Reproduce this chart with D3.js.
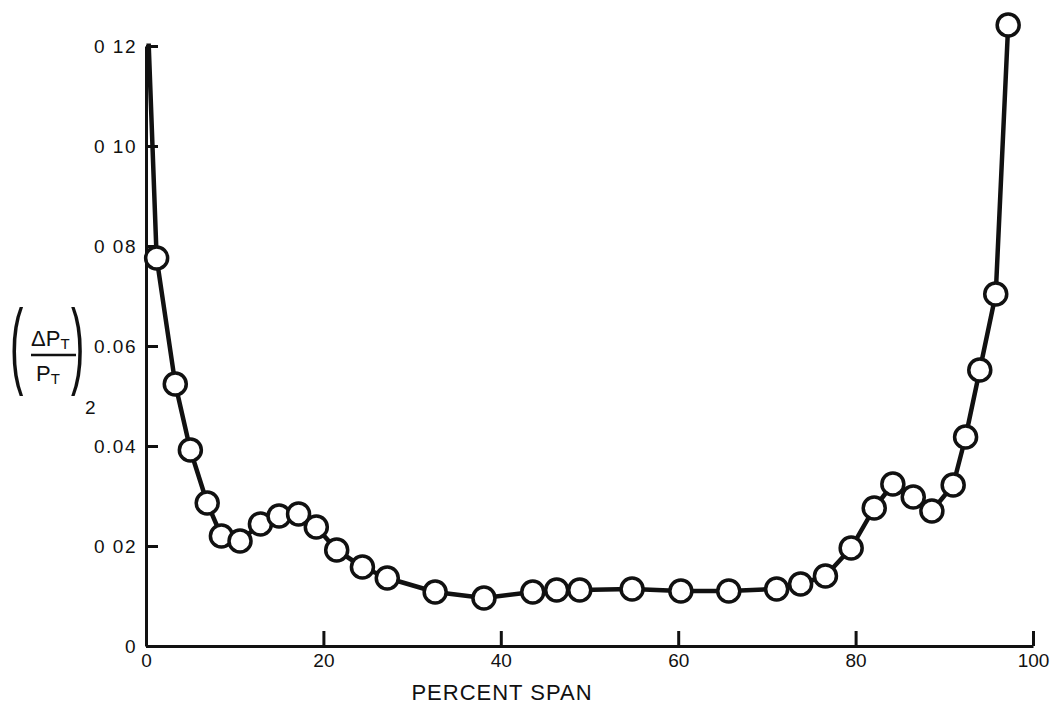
<!DOCTYPE html>
<html>
<head>
<meta charset="utf-8">
<script src="https://cdn.jsdelivr.net/npm/d3@7"></script>
<style>
  body { margin: 0; background: #fff; }
  svg { display: block; }
  text { font-family: "Liberation Sans", Arial, sans-serif; fill: #111; }
</style>
</head>
<body>
<div id="vis"></div>
<script>
// DATA
let span = [1.2, 3.3, 5.0, 6.9, 8.5, 10.6, 12.9, 15.0, 17.2, 19.2, 21.5, 24.4, 27.2,
	32.6, 38.1, 43.6, 46.3, 48.9, 54.8, 60.3, 65.7, 71.1, 73.8, 76.6, 79.5,
	82.1, 84.2, 86.5, 88.6, 91.0, 92.4, 94.0, 95.8, 97.2];
let lossRatio = [0.0776, 0.0524, 0.0392, 0.0286, 0.0220, 0.0210, 0.0244, 0.0260, 0.0264, 0.0238, 0.0192, 0.0158, 0.0136,
	0.0108, 0.0096, 0.0108, 0.0112, 0.0112, 0.0114, 0.0110, 0.0110, 0.0114, 0.0124, 0.0140, 0.0196,
	0.0276, 0.0324, 0.0298, 0.0270, 0.0322, 0.0418, 0.0552, 0.0704, 0.1242];
// the curve starts at the top of the axis without a marker
let leadSpan = 0.3, leadLoss = 0.1205;

let xTicks = [0, 20, 40, 60, 80, 100];
let yTicks = [0, 0.02, 0.04, 0.06, 0.08, 0.10, 0.12];
let yTickLabels = ['0', '0 02', '0.04', '0.06', '0 08', '0 10', '0 12'];

// PARAMETERS
let width = 1053, height = 708;
let margin = { left: 146, right: 1033, top: 46, bottom: 646 };

let svg = d3.select('#vis').append('svg')
	.attr('width', width)
	.attr('height', height);

// SCALES
let x = d3.scaleLinear().domain([0, 100]).range([margin.left, margin.right]);
let y = d3.scaleLinear().domain([0, 0.12]).range([margin.bottom, margin.top]);

// AXES
let xAxis = d3.axisBottom(x)
	.tickValues(xTicks)
	.tickFormat(d3.format('d'))
	.tickSizeInner(-15)
	.tickSizeOuter(0)
	.tickPadding(8);

let yAxis = d3.axisLeft(y)
	.tickValues(yTicks)
	.tickFormat((d, i) => yTickLabels[i])
	.tickSizeInner(-12)
	.tickSizeOuter(0)
	.tickPadding(9);

let gx = svg.append('g')
	.attr('transform', `translate(0, ${margin.bottom})`)
	.call(xAxis);
let gy = svg.append('g')
	.attr('transform', `translate(${margin.left}, 0)`)
	.call(yAxis);

[gx, gy].forEach(g => {
	g.select('.domain').attr('stroke', '#111').attr('stroke-width', 3);
	g.selectAll('.tick line').attr('stroke', '#111').attr('stroke-width', 3);
	g.selectAll('.tick text')
		.attr('font-family', '"Liberation Sans", Arial, sans-serif')
		.attr('font-size', 19)
		.attr('fill', '#111');
});
gy.selectAll('.tick text').attr('letter-spacing', 1.5);

// CURVE
let points = [[leadSpan, leadLoss]].concat(span.map((s, i) => [s, lossRatio[i]]));

let line = d3.line()
	.x(d => x(d[0]))
	.y(d => y(d[1]));

svg.append('path')
	.datum(points)
	.attr('fill', 'none')
	.attr('stroke', '#111')
	.attr('stroke-width', 4.5)
	.attr('stroke-linejoin', 'round')
	.attr('d', line);

svg.selectAll('circle.pt')
	.data(span)
	.enter()
	.append('circle')
	.attr('class', 'pt')
	.attr('cx', d => x(d))
	.attr('cy', (d, i) => y(lossRatio[i]))
	.attr('r', 11)
	.attr('fill', '#fff')
	.attr('stroke', '#111')
	.attr('stroke-width', 3.5);

// X LABEL
svg.append('text')
	.attr('x', 502)
	.attr('y', 700)
	.attr('text-anchor', 'middle')
	.attr('font-size', 22)
	.attr('letter-spacing', 1)
	.text('PERCENT SPAN');

// Y LABEL
let yl = svg.append('g');
yl.append('text')
	.attr('transform', 'translate(10, 376) scale(1, 2.35)')
	.attr('font-size', 40)
	.text('(');
yl.append('text')
	.attr('transform', 'translate(71, 376) scale(1, 2.35)')
	.attr('font-size', 40)
	.text(')');
let num = yl.append('text')
	.attr('x', 31)
	.attr('y', 346)
	.attr('font-size', 22);
num.append('tspan').text('ΔP');
num.append('tspan').attr('font-size', 15).attr('dy', 3).text('T');
yl.append('line')
	.attr('x1', 31).attr('x2', 76)
	.attr('y1', 355).attr('y2', 355)
	.attr('stroke', '#111')
	.attr('stroke-width', 2.5);
let den = yl.append('text')
	.attr('x', 36)
	.attr('y', 381)
	.attr('font-size', 22);
den.append('tspan').text('P');
den.append('tspan').attr('font-size', 15).attr('dy', 3).text('T');
yl.append('text')
	.attr('x', 85)
	.attr('y', 414)
	.attr('font-size', 19)
	.text('2');
</script>
</body>
</html>
